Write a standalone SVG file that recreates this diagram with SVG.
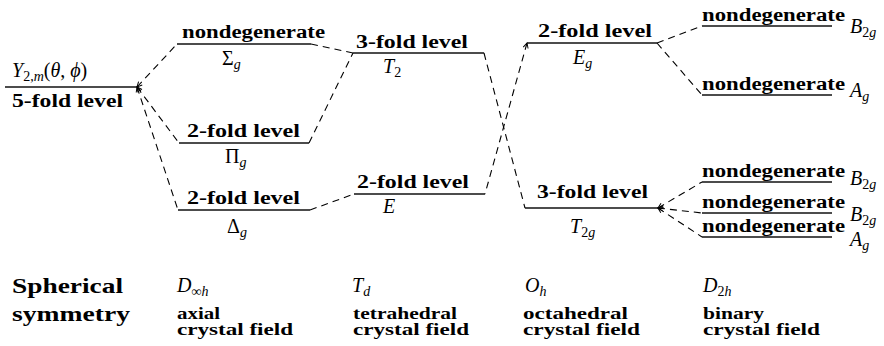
<svg xmlns="http://www.w3.org/2000/svg" width="884" height="346" viewBox="0 0 884 346">
<defs>
<marker id="chev" viewBox="-1 -4 8 8" markerWidth="8" markerHeight="8" refX="0" refY="0" orient="auto" markerUnits="userSpaceOnUse">
<path d="M5,-2.5 L0,0 L5,2.5" fill="none" stroke="#000" stroke-width="1"/>
</marker>
</defs>
<style>
.lvl{stroke:#111;stroke-width:1.6;fill:none}
.dash{stroke:#000;stroke-width:1.1;fill:none;stroke-dasharray:7 5}
.b{font-family:"Liberation Serif","Times New Roman",serif;font-weight:bold;font-size:18px;fill:#000}
.bb{font-family:"Liberation Serif","Times New Roman",serif;font-weight:bold;font-size:22px;fill:#000}
.bs{font-family:"Liberation Serif","Times New Roman",serif;font-weight:bold;font-size:16px;fill:#000}
.m{font-family:"Liberation Serif","Times New Roman",serif;font-style:italic;font-size:20px;fill:#000}
.u{font-style:normal}
.sub{font-size:14px}
</style>
<rect width="884" height="346" fill="#fff"/>

<g id="connectors">
<path class="dash" d="M137,87 L177,44" marker-start="url(#chev)"/>
<path class="dash" d="M137,87 L179,143" marker-start="url(#chev)"/>
<path class="dash" d="M137,87 L178,210" marker-start="url(#chev)"/>
<path class="dash" d="M311,44 L353,53"/>
<path class="dash" d="M309,143 L353,53"/>
<path class="dash" d="M310,210 L354,194"/>
<path class="dash" d="M484,53 L525,208"/>
<path class="dash" d="M527,43 L485,194" marker-start="url(#chev)"/>
<path class="dash" d="M657,43 L702,26"/>
<path class="dash" d="M657,43 L702,95"/>
<path class="dash" d="M658,208 L702,182" marker-start="url(#chev)"/>
<path class="dash" d="M658,208 L702,213" marker-start="url(#chev)"/>
<path class="dash" d="M658,208 L702,237" marker-start="url(#chev)"/>
</g>

<g id="spherical">
<line class="lvl" x1="5" y1="87" x2="137" y2="87" stroke-width="2"/>
<text class="m" x="12" y="77">Y<tspan class="sub u" dy="4">2,</tspan><tspan class="sub">m</tspan><tspan class="u" dy="-4">(</tspan>θ<tspan class="u">, </tspan>ϕ<tspan class="u">)</tspan></text>
<text class="b" x="12" y="107" textLength="111" lengthAdjust="spacingAndGlyphs">5-fold level</text>
</g>

<g id="sigma-g">
<line class="lvl" x1="177" y1="44" x2="311" y2="44"/>
<text class="b" x="182" y="38" textLength="143" lengthAdjust="spacingAndGlyphs">nondegenerate</text>
<text class="m" x="222" y="65"><tspan class="u">Σ</tspan><tspan class="sub" dy="4">g</tspan></text>
</g>

<g id="pi-g">
<line class="lvl" x1="179" y1="143" x2="309" y2="143"/>
<text class="b" x="187" y="137" textLength="113" lengthAdjust="spacingAndGlyphs">2-fold level</text>
<text class="m" x="225" y="163"><tspan class="u">Π</tspan><tspan class="sub" dy="4">g</tspan></text>
</g>

<g id="delta-g">
<line class="lvl" x1="178" y1="210" x2="310" y2="210"/>
<text class="b" x="187" y="204" textLength="113" lengthAdjust="spacingAndGlyphs">2-fold level</text>
<text class="m" x="227" y="233"><tspan class="u">Δ</tspan><tspan class="sub" dy="4">g</tspan></text>
</g>

<g id="t2">
<line class="lvl" x1="353" y1="53" x2="484" y2="53"/>
<text class="b" x="356" y="48" textLength="112" lengthAdjust="spacingAndGlyphs">3-fold level</text>
<text class="m" x="383" y="73">T<tspan class="sub u" dy="4">2</tspan></text>
</g>

<g id="e">
<line class="lvl" x1="354" y1="194" x2="485" y2="194"/>
<text class="b" x="357" y="188" textLength="112" lengthAdjust="spacingAndGlyphs">2-fold level</text>
<text class="m" x="383" y="213">E</text>
</g>

<g id="e-g">
<line class="lvl" x1="527" y1="43" x2="657" y2="43"/>
<text class="b" x="538" y="37" textLength="114" lengthAdjust="spacingAndGlyphs">2-fold level</text>
<text class="m" x="573" y="64">E<tspan class="sub" dy="4">g</tspan></text>
</g>

<g id="t2g">
<line class="lvl" x1="525" y1="208" x2="658" y2="208"/>
<text class="b" x="537" y="198" textLength="111" lengthAdjust="spacingAndGlyphs">3-fold level</text>
<text class="m" x="570" y="233">T<tspan class="sub" dy="4"><tspan class="u">2</tspan>g</tspan></text>
</g>

<g id="b2g-a">
<line class="lvl" x1="702" y1="26" x2="832" y2="26"/>
<text class="b" x="702" y="21" textLength="143" lengthAdjust="spacingAndGlyphs">nondegenerate</text>
<text class="m" x="850" y="33">B<tspan class="sub" dy="4"><tspan class="u">2</tspan>g</tspan></text>
</g>

<g id="ag-a">
<line class="lvl" x1="702" y1="95" x2="832" y2="95"/>
<text class="b" x="702" y="90" textLength="143" lengthAdjust="spacingAndGlyphs">nondegenerate</text>
<text class="m" x="850" y="97">A<tspan class="sub" dy="4">g</tspan></text>
</g>

<g id="b2g-b">
<line class="lvl" x1="702" y1="182" x2="832" y2="182"/>
<text class="b" x="702" y="177" textLength="143" lengthAdjust="spacingAndGlyphs">nondegenerate</text>
<text class="m" x="850" y="185">B<tspan class="sub" dy="4"><tspan class="u">2</tspan>g</tspan></text>
</g>

<g id="b2g-c">
<line class="lvl" x1="702" y1="213" x2="832" y2="213"/>
<text class="b" x="702" y="208" textLength="143" lengthAdjust="spacingAndGlyphs">nondegenerate</text>
<text class="m" x="850" y="221">B<tspan class="sub" dy="4"><tspan class="u">2</tspan>g</tspan></text>
</g>

<g id="ag-b">
<line class="lvl" x1="702" y1="237" x2="832" y2="237"/>
<text class="b" x="702" y="232" textLength="143" lengthAdjust="spacingAndGlyphs">nondegenerate</text>
<text class="m" x="850" y="246">A<tspan class="sub" dy="4">g</tspan></text>
</g>

<g id="legend">
<text class="bb" x="12" y="293" textLength="111" lengthAdjust="spacingAndGlyphs">Spherical</text>
<text class="bb" x="12" y="321" textLength="118" lengthAdjust="spacingAndGlyphs">symmetry</text>

<text class="m" x="177" y="292">D<tspan class="sub" dy="4">∞h</tspan></text>
<text class="bs" x="177" y="319" textLength="43" lengthAdjust="spacingAndGlyphs">axial</text>
<text class="bs" x="177" y="335" textLength="116" lengthAdjust="spacingAndGlyphs">crystal field</text>

<text class="m" x="352" y="292">T<tspan class="sub" dy="4">d</tspan></text>
<text class="bs" x="353" y="319" textLength="104" lengthAdjust="spacingAndGlyphs">tetrahedral</text>
<text class="bs" x="353" y="335" textLength="116" lengthAdjust="spacingAndGlyphs">crystal field</text>

<text class="m" x="525" y="292">O<tspan class="sub" dy="4">h</tspan></text>
<text class="bs" x="523" y="319" textLength="105" lengthAdjust="spacingAndGlyphs">octahedral</text>
<text class="bs" x="523" y="335" textLength="117" lengthAdjust="spacingAndGlyphs">crystal field</text>

<text class="m" x="703" y="292">D<tspan class="sub" dy="4"><tspan class="u">2</tspan>h</tspan></text>
<text class="bs" x="703" y="319" textLength="61" lengthAdjust="spacingAndGlyphs">binary</text>
<text class="bs" x="703" y="335" textLength="117" lengthAdjust="spacingAndGlyphs">crystal field</text>
</g>
</svg>
